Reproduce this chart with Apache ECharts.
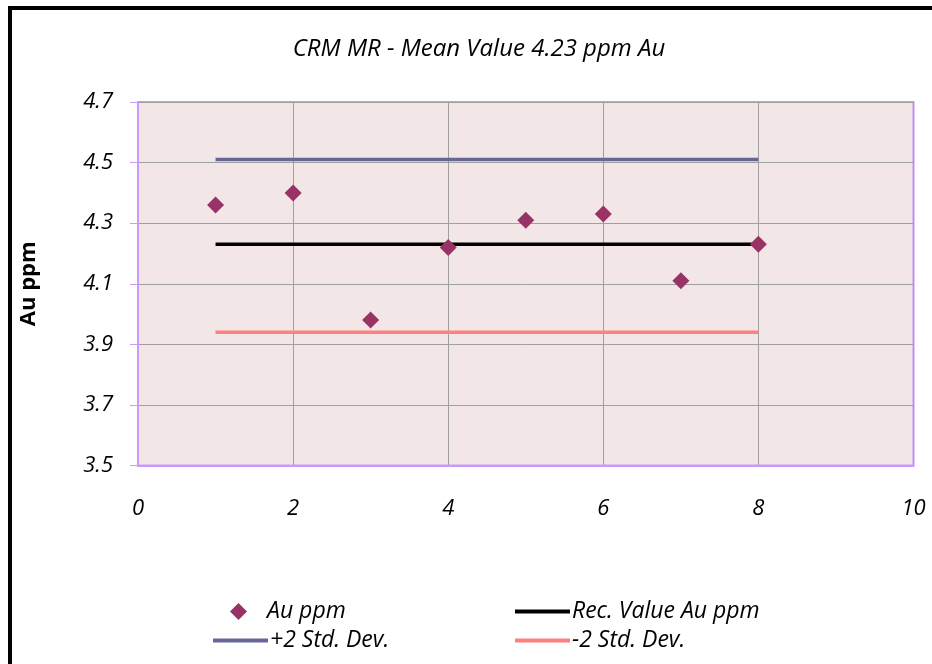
<!DOCTYPE html>
<html>
<head>
<meta charset="utf-8">
<script src="https://cdn.jsdelivr.net/npm/echarts@6/dist/echarts.min.js"></script>
<style>
  html, body { margin: 0; padding: 0; background: #fff; }
  #chart { width: 932px; height: 664px; }
</style>
</head>
<body>
<div id="chart"></div>
<script>
// Sample numbers along the x axis
const sampleNo = [1, 2, 3, 4, 5, 6, 7, 8];
// Assayed gold values (ppm) for the CRM
const auPpm = [4.36, 4.40, 3.98, 4.22, 4.31, 4.33, 4.11, 4.23];
// Certified value and control limits
const recValue = 4.23;
const plus2SD = 4.51;
const minus2SD = 3.94;
// Limit lines run from the first to the last sample
const lineSpan = [1, 8];

const FONT = 'Open Sans';
const chart = echarts.init(document.getElementById('chart'));

const pts = sampleNo.map((x, i) => [x, auPpm[i]]);
const flat = v => lineSpan.map(x => [x, v]);

function legendAt(left, top, name, icon, w, h, pad) {
  return {
    left: left, top: top,
    data: [{ name: name, icon: icon }],
    itemWidth: w, itemHeight: h, itemGap: 0,
    selectedMode: false,
    textStyle: { fontFamily: FONT, fontStyle: 'italic', fontSize: 23, color: '#000', padding: [0, 0, 0, pad] }
  };
}

chart.setOption({
  animation: false,
  backgroundColor: '#fff',
  title: {
    text: 'CRM MR - Mean Value 4.23 ppm Au',
    left: 474, top: 32, textAlign: 'center',
    textStyle: { fontFamily: FONT, fontStyle: 'italic', fontWeight: 'normal', fontSize: 24, color: '#000' }
  },
  graphic: [{
    type: 'rect', silent: true,
    shape: { x: 10, y: 8, width: 1000, height: 800 },
    style: { fill: null, stroke: '#000', lineWidth: 4 }
  }],
  legend: [
    legendAt(225, 595, 'Au ppm', 'diamond', 17, 17, 15),
    legendAt(510, 595, 'Rec. Value Au ppm', 'rect', 55, 4, -3),
    legendAt(208, 624, '+2 Std. Dev.', 'rect', 55, 4, -3),
    legendAt(510, 624, '-2 Std. Dev.', 'rect', 55, 4, -3)
  ],
  grid: {
    left: 138, top: 102, right: 18.5, bottom: 198.5,
    show: true, backgroundColor: '#F2E6E6', borderColor: '#CC99FF', borderWidth: 2
  },
  xAxis: {
    type: 'value', min: 0, max: 10, interval: 2,
    axisLine: { show: true, lineStyle: { color: '#CC99FF', width: 2 } },
    axisTick: { show: false },
    axisLabel: { margin: 32, fontFamily: FONT, fontStyle: 'italic', fontSize: 22, color: '#000' },
    splitLine: { show: true, lineStyle: { color: '#A0A0A0', width: 1 } }
  },
  yAxis: {
    type: 'value', min: 3.5, max: 4.7, interval: 0.2,
    name: 'Au ppm', nameLocation: 'middle', nameRotate: 90, nameGap: 98,
    nameTextStyle: { fontFamily: FONT, fontWeight: 'bold', fontSize: 22, color: '#000' },
    axisLine: { show: true, lineStyle: { color: '#CC99FF', width: 2 } },
    axisTick: { show: true, inside: false, length: 8, lineStyle: { color: '#CC99FF', width: 1 } },
    axisLabel: {
      margin: 25, fontFamily: FONT, fontStyle: 'italic', fontSize: 22, color: '#000',
      formatter: v => v.toFixed(1)
    },
    splitLine: { show: true, lineStyle: { color: '#A0A0A0', width: 1 } }
  },
  series: [
    {
      name: '+2 Std. Dev.', type: 'line', data: flat(plus2SD), symbol: 'none',
      color: '#666699', lineStyle: { color: '#666699', width: 3.5 }, z: 2
    },
    {
      name: 'Rec. Value Au ppm', type: 'line', data: flat(recValue), symbol: 'none',
      color: '#000000', lineStyle: { color: '#000000', width: 3.5 }, z: 2
    },
    {
      name: '-2 Std. Dev.', type: 'line', data: flat(minus2SD), symbol: 'none',
      color: '#FF8080', lineStyle: { color: '#FF8080', width: 3.5 }, z: 2
    },
    {
      name: 'Au ppm', type: 'scatter', data: pts, symbol: 'diamond', symbolSize: 17,
      color: '#993366', itemStyle: { color: '#993366', opacity: 1 }, z: 3
    }
  ]
});
</script>
</body>
</html>
